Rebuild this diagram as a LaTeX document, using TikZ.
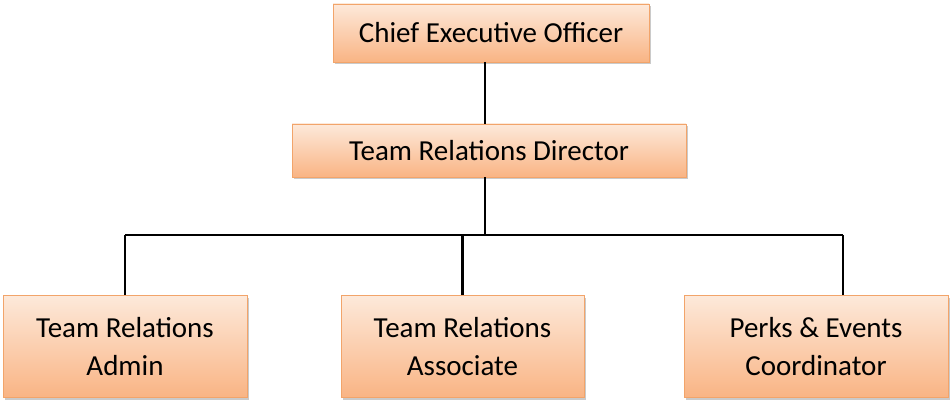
\documentclass[tikz,border=0pt]{standalone}
\usepackage{fontspec}
\setmainfont{Carlito}
\usetikzlibrary{shadows}
\definecolor{boxtop}{HTML}{FDE9DA}
\definecolor{boxbot}{HTML}{F9B484}
\definecolor{boxedge}{HTML}{F2A46A}
\tikzset{
  orgbox/.style={draw=boxedge, line width=0.8pt, top color=boxtop, bottom color=boxbot,
    drop shadow={shadow xshift=1.5pt, shadow yshift=-2.5pt, opacity=0.35, fill=black!60},
    font=\fontsize{29}{38}\selectfont, align=center, inner sep=0pt},
  conn/.style={line width=2.2pt, black}
}
\begin{document}
\begin{tikzpicture}[x=1pt,y=-1pt]
\useasboundingbox (0,0) rectangle (951,401);
\coordinate (hl) at (125,235);
\coordinate (hr) at (843,235);
\coordinate (hm) at (485,235);
\node[orgbox, minimum width=316pt, minimum height=58pt] (ceo) at (491,33) {Chief Executive Officer};
\node[orgbox, minimum width=394pt, minimum height=53pt] (dir) at (489,150.5) {Team Relations Director};
\node[orgbox, minimum width=244pt, minimum height=102pt] (c1) at (125,346.5) {Team Relations\\Admin};
\node[orgbox, minimum width=243pt, minimum height=102pt] (c2) at (462.5,346.5) {Team Relations\\Associate};
\node[orgbox, minimum width=264pt, minimum height=102pt] (c3) at (816,346.5) {Perks \& Events\\Coordinator};
\draw[conn] (ceo.south -| hm) -- (dir.north -| hm);
\draw[conn] (dir.south -| hm) -- (hm);
\draw[conn] (hl) -- (hr);
\draw[conn] (hl) -- (c1.north -| hl);
\draw[conn] (hm -| c2.north) -- (c2.north);
\draw[conn] (hr) -- (c3.north -| hr);
\end{tikzpicture}
\end{document}
